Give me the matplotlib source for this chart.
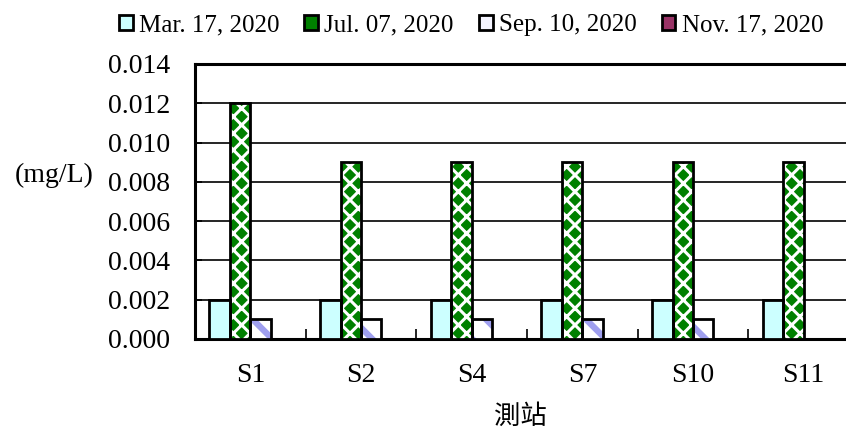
"""Bar chart of concentration (mg/L) per station, four sampling dates.
"""
import matplotlib
matplotlib.use("Agg")
import matplotlib.pyplot as plt
from matplotlib.patches import Patch
import numpy as np


################################################################################
# DATA
################################################################################

STATIONS = ["S1", "S2", "S4", "S7", "S10", "S11"]
DATES = ["Mar. 17, 2020", "Jul. 07, 2020", "Sep. 10, 2020", "Nov. 17, 2020"]
MAR = [0.002, 0.002, 0.002, 0.002, 0.002, 0.002]
JUL = [0.012, 0.009, 0.009, 0.009, 0.009, 0.009]
SEP = [0.001, 0.001, 0.001, 0.001, 0.001, 0.0]
NOV = [0.0, 0.0, 0.0, 0.0, 0.0, 0.0]
Y_TICKS = [0.000, 0.002, 0.004, 0.006, 0.008, 0.010, 0.012, 0.014]
Y_LABEL = "(mg/L)"
X_LABEL = "測站"


################################################################################
# PLOTTING
################################################################################

plt.rcParams["font.family"] = ["Liberation Serif", "DejaVu Serif"]

FIGSIZE = (8.46, 4.33)
AX_RECT = [0.2305, 0.2171, 0.7849, 0.6351]
BAR_W = 0.185
TICK_FS = 20
LEGEND_FS = 18

# (face, hatch, hatch colour, hatch linewidth) for each series
STYLES = [
    ("#ccffff", None, "#ccffff", 1.0),
    ("#008000", "xx", "white", 2.2),
    ("white", "\\", "#9f9fef", 4.5),
    ("#993366", None, "#993366", 1.0),
]

fig = plt.figure(figsize=FIGSIZE, dpi=100)
ax = fig.add_axes(AX_RECT)

x = np.arange(len(STATIONS))
series = [MAR, JUL, SEP, NOV]
offsets = [-1.5, -0.5, 0.5, 1.5]

for vals, off, (face, hatch, hcol, hlw) in zip(series, offsets, STYLES):
    plt.rcParams["hatch.linewidth"] = hlw
    # fill + hatch layer, then a black outline on top
    bars = ax.bar(x + off * BAR_W, vals, BAR_W, color=face, hatch=hatch,
                  edgecolor=hcol, linewidth=0, zorder=3)
    for b in bars:
        if hasattr(b, "set_hatch_linewidth"):
            b.set_hatch_linewidth(hlw)
    ax.bar(x + off * BAR_W, vals, BAR_W, fill=False,
           edgecolor="black", linewidth=2, zorder=4)

# Axes.
ax.set_xlim(-0.5, len(STATIONS) - 0.5)
ax.set_ylim(0, 0.014)
ax.set_yticks(Y_TICKS)
ax.yaxis.set_major_formatter(plt.matplotlib.ticker.FormatStrFormatter("%.3f"))
ax.set_xticks(x)
ax.set_xticklabels(STATIONS)
ax.set_xticks(np.arange(len(STATIONS) + 1) - 0.5, minor=True)
ax.tick_params(axis="x", which="major", length=0, pad=17, labelsize=TICK_FS)
ax.tick_params(axis="x", which="minor", direction="in", length=7, width=1.2)
ax.tick_params(axis="y", direction="in", length=5, width=1.2, pad=18,
               labelsize=TICK_FS)
ax.grid(axis="y", color="black", linewidth=1.2, zorder=0)
ax.set_axisbelow(True)
for side in ["left", "bottom", "top", "right"]:
    ax.spines[side].set_linewidth(2.2)

fig.text(15 / 846, 1 - 175 / 433, Y_LABEL, fontsize=TICK_FS,
         ha="left", va="center")
fig.text(520 / 846, 1 - 416 / 433, X_LABEL, fontsize=19,
         family=["Noto Sans CJK TC", "DejaVu Sans"], ha="center", va="center")

# Legend.
handles = [
    Patch(facecolor=face if face != "white" else "#f4f4ff",
          edgecolor="black", linewidth=2, label=lab)
    for lab, (face, _, _, _) in zip(DATES, STYLES)
]
fig.legend(
    handles=handles,
    loc="center",
    bbox_to_anchor=(471 / 846, 1 - 25 / 433),
    ncol=4,
    frameon=False,
    fontsize=LEGEND_FS,
    handlelength=0.55,
    handleheight=0.55,
    handletextpad=0.25,
    columnspacing=1.0,
    borderpad=0,
)

fig.savefig("out.png", dpi=100)
